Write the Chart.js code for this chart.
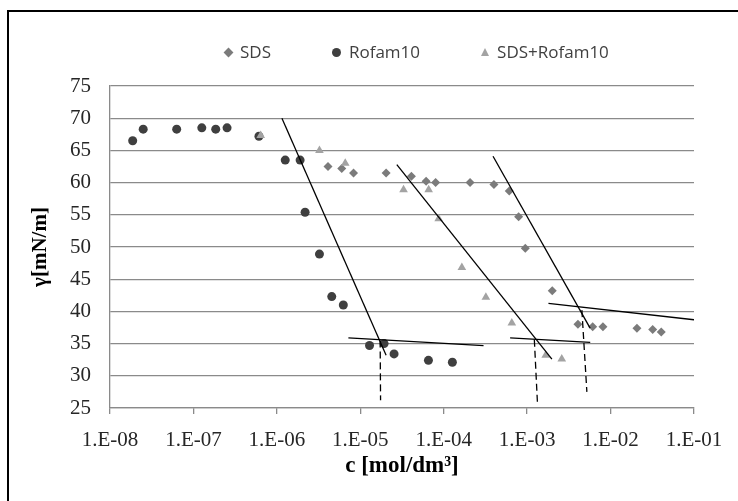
<!DOCTYPE html>
<html>
<head>
<meta charset="utf-8">
<title>Surface tension vs concentration</title>
<script src="https://cdn.jsdelivr.net/npm/chart.js@4"></script>
<style>
  html, body { margin: 0; padding: 0; background: #fff; overflow: hidden; }
  .chart-wrap { position: relative; width: 738px; height: 501px; }
  /* only the left and top edge of the frame are visible in the picture */
  .frame { position: absolute; left: 7px; top: 10px; width: 780px; height: 560px; border: 2px solid #000; pointer-events: none; }
  .legend { position: absolute; top: 42px; left: 225px; display: flex; gap: 61px; font: 17px "Open Sans", sans-serif; color: #404040; line-height: 20px; }
  .legend-item { display: flex; align-items: center; }
  .marker { display: inline-block; margin-right: 8px; }
  .marker.rectRot { width: 7px; height: 7px; transform: rotate(45deg); }
  .marker.circle { width: 9px; height: 9px; border-radius: 50%; }
  .marker.triangle { width: 0; height: 0; border-left: 4.5px solid transparent; border-right: 4.5px solid transparent; border-bottom: 8px solid; }
</style>
</head>
<body>
<div class="chart-wrap">
  <canvas id="chart" width="738" height="501"></canvas>
  <div class="legend"></div>
  <div class="frame"></div>
</div>
<script>
// Concentrations in mol/dm3, surface tension in mN/m.
const SDS_C = [4.1e-6, 6.0e-6, 8.3e-6, 2.04e-5, 4.1e-5, 6.15e-5, 8.0e-5, 2.07e-4, 4.0e-4, 6.1e-4, 7.9e-4, 9.5e-4, 2.0e-3, 4.06e-3, 6.1e-3, 8.1e-3, 2.07e-2, 3.2e-2, 4.05e-2];
const SDS_GAMMA = [62.5, 62.2, 61.5, 61.5, 61.0, 60.2, 60.0, 60.0, 59.7, 58.7, 54.7, 49.8, 43.2, 38.0, 37.6, 37.6, 37.4, 37.2, 36.8];

const ROFAM_C = [1.87e-8, 2.5e-8, 6.3e-8, 1.26e-7, 1.85e-7, 2.53e-7, 6.1e-7, 1.26e-6, 1.9e-6, 2.18e-6, 3.24e-6, 4.55e-6, 6.26e-6, 1.29e-5, 1.93e-5, 2.54e-5, 6.56e-5, 1.27e-4];
const ROFAM_GAMMA = [66.5, 68.3, 68.3, 68.5, 68.3, 68.5, 67.2, 63.5, 63.5, 55.4, 48.9, 42.3, 41.0, 34.7, 35.0, 33.4, 32.4, 32.1];

const MIX_C = [6.4e-7, 3.24e-6, 6.6e-6, 3.3e-5, 6.6e-5, 8.7e-5, 1.65e-4, 3.2e-4, 6.55e-4, 1.67e-3, 2.6e-3];
const MIX_GAMMA = [67.3, 65.0, 63.0, 58.9, 58.9, 54.4, 46.8, 42.2, 38.2, 33.2, 32.6];

// Hand-drawn fit lines: [[c1, gamma1], [c2, gamma2]]
const FIT_LINES = [
  [[1.15e-6, 70.0], [2.04e-5, 33.2]],
  [[2.74e-5, 62.8], [1.98e-3, 32.6]],
  [[3.9e-4, 64.1], [5.69e-3, 37.4]],
  [[7.2e-6, 35.9], [3.0e-4, 34.7]],
  [[6.25e-4, 35.9], [5.7e-3, 35.2]],
  [[1.8e-3, 41.25], [1.0e-1, 38.7]]
];
// Dashed drop lines marking the CMC
const CMC_LINES = [
  [[1.73e-5, 35.5], [1.75e-5, 26.2]],
  [[1.22e-3, 35.6], [1.33e-3, 25.7]],
  [[4.53e-3, 40.2], [5.2e-3, 27.5]]
];

const X_TICKS = [1e-8, 1e-7, 1e-6, 1e-5, 1e-4, 1e-3, 1e-2, 1e-1];
const X_TICK_LABELS = ["1.E-08", "1.E-07", "1.E-06", "1.E-05", "1.E-04", "1.E-03", "1.E-02", "1.E-01"];
const Y_TICKS = [25, 30, 35, 40, 45, 50, 55, 60, 65, 70, 75];

const GRID = '#8a8a8a';
const SERIF = "'Times New Roman', 'Liberation Serif', serif";

const toPoints = (xs, ys) => xs.map((x, i) => ({ x: x, y: ys[i] }));

const series = [
  { label: 'SDS', c: SDS_C, gamma: SDS_GAMMA, style: 'rectRot', color: '#7b7b7b', radius: 4.5, order: 3 },
  { label: 'Rofam10', c: ROFAM_C, gamma: ROFAM_GAMMA, style: 'circle', color: '#3f3f3f', radius: 4.5, order: 2 },
  { label: 'SDS+Rofam10', c: MIX_C, gamma: MIX_GAMMA, style: 'triangle', color: '#a3a3a3', radius: 5, order: 1 }
];

const datasets = series.map((s) => ({
  label: s.label,
  data: toPoints(s.c, s.gamma),
  pointStyle: s.style,
  pointRadius: s.radius,
  pointBackgroundColor: s.color,
  pointBorderColor: s.color,
  pointBorderWidth: 0,
  order: s.order
}));

// Lines go on top of the markers (order 0).
FIT_LINES.forEach((seg) => datasets.push({
  data: seg.map((p) => ({ x: p[0], y: p[1] })),
  showLine: true, pointRadius: 0, borderColor: '#000', borderWidth: 1.3, order: 0
}));
CMC_LINES.forEach((seg) => datasets.push({
  data: seg.map((p) => ({ x: p[0], y: p[1] })),
  showLine: true, pointRadius: 0, borderColor: '#000', borderWidth: 1.3, borderDash: [7, 4], order: 0
}));

new Chart(document.getElementById('chart'), {
  type: 'scatter',
  data: { datasets: datasets },
  options: {
    responsive: false,
    animation: false,
    layout: { padding: { top: 86, right: 44, bottom: 0, left: 0 } },
    plugins: { legend: { display: false }, tooltip: { enabled: false } },
    scales: {
      x: {
        type: 'logarithmic',
        min: 1e-8,
        max: 1e-1,
        afterBuildTicks: (scale) => { scale.ticks = X_TICKS.map((v) => ({ value: v })); },
        afterFit: (scale) => { scale.height = 93; },
        ticks: {
          callback: (value, i) => X_TICK_LABELS[i],
          font: { family: SERIF, size: 21 },
          color: '#262626',
          padding: 14,
          maxRotation: 0,
          autoSkip: false
        },
        grid: { drawOnChartArea: false, drawTicks: true, tickLength: 6, color: GRID, lineWidth: 1.3 },
        border: { color: GRID, width: 1.3 },
        title: {
          display: true,
          text: 'c [mol/dm³]',
          font: { family: SERIF, size: 23, weight: 'bold' },
          color: '#000',
          padding: { top: 0, bottom: 21 }
        }
      },
      y: {
        min: 25,
        max: 75,
        afterBuildTicks: (scale) => { scale.ticks = Y_TICKS.map((v) => ({ value: v })); },
        afterFit: (scale) => { scale.width = 110; },
        ticks: { font: { family: SERIF, size: 21 }, color: '#262626', padding: 19 },
        grid: { color: GRID, lineWidth: 1.3, drawTicks: false },
        border: { color: GRID, width: 1.3 },
        title: {
          display: true,
          text: 'γ[mN/m]',
          font: { family: SERIF, size: 21, weight: 'bold' },
          color: '#000',
          padding: { top: 28, bottom: 0 }
        }
      }
    }
  }
});

// HTML legend, so the item spacing can follow the original.
const legend = document.querySelector('.legend');
series.forEach((s) => {
  const item = document.createElement('div');
  item.className = 'legend-item';
  const marker = document.createElement('span');
  marker.className = 'marker ' + s.style;
  if (s.style === 'triangle') marker.style.borderBottomColor = s.color;
  else marker.style.background = s.color;
  item.appendChild(marker);
  item.appendChild(document.createTextNode(s.label));
  legend.appendChild(item);
});
</script>
</body>
</html>
